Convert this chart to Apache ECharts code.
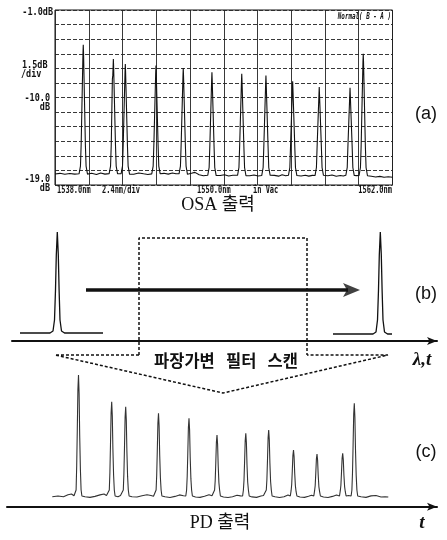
<!DOCTYPE html>
<html>
<head>
<meta charset="utf-8">
<title>OSA / PD output</title>
<script src="https://cdn.jsdelivr.net/npm/echarts@6.0.0/dist/echarts.min.js"></script>
<style>
html,body{margin:0;padding:0;background:#ffffff;}
#chart{width:447px;height:540px;}
</style>
</head>
<body>
<div id="chart"></div>
<script>
// ---------------- data ----------------
// (a) OSA spectrum: [wavelength nm, level dB]
const osaSpectrum = [
  [1538.00,-17.87],[1538.35,-17.80],[1538.70,-17.90],[1539.05,-17.82],[1539.40,-17.88],
  [1539.71,-17.85],[1539.81,-17.05],[1539.86,-14.85],[1539.99,-5.40],[1540.01,-4.58],[1540.03,-5.45],[1540.16,-14.85],[1540.21,-17.05],[1540.31,-17.88],
  [1540.60,-17.80],[1540.95,-17.92],[1541.25,-17.76],[1541.55,-17.88],
  [1541.85,-17.83],[1541.95,-17.05],[1542.00,-14.85],[1542.08,-8.10],[1542.11,-7.70],[1542.13,-6.90],[1542.15,-6.04],[1542.17,-6.90],[1542.30,-14.85],[1542.35,-17.05],[1542.45,-17.85],
  [1542.58,-17.80],
  [1542.70,-17.85],[1542.80,-17.05],[1542.85,-14.85],[1542.98,-7.35],[1543.00,-6.55],[1543.02,-7.40],[1543.15,-14.85],[1543.20,-17.05],[1543.30,-17.88],
  [1543.60,-17.90],[1543.95,-17.76],[1544.30,-17.85],[1544.60,-17.92],
  [1544.88,-17.86],[1544.98,-17.05],[1545.03,-14.85],[1545.16,-7.50],[1545.18,-6.70],[1545.20,-7.50],[1545.33,-14.85],[1545.38,-17.05],[1545.48,-17.85],
  [1545.75,-17.80],[1546.05,-17.88],[1546.35,-17.76],[1546.60,-17.85],
  [1546.82,-17.85],[1546.92,-17.05],[1546.97,-14.85],[1547.10,-7.80],[1547.12,-6.97],[1547.14,-7.80],[1547.27,-14.85],[1547.32,-17.05],[1547.42,-17.90],
  [1547.70,-17.80],[1547.95,-17.70],[1548.25,-17.95],[1548.55,-18.05],
  [1548.86,-18.00],[1548.96,-17.20],[1549.01,-15.00],[1549.14,-8.20],[1549.16,-7.41],[1549.18,-8.25],[1549.31,-15.00],[1549.36,-17.20],[1549.46,-18.03],
  [1549.75,-18.03],[1550.05,-17.95],[1550.35,-18.07],[1550.65,-18.00],
  [1550.98,-18.00],[1551.08,-17.20],[1551.13,-15.00],[1551.26,-8.35],[1551.28,-7.55],[1551.30,-8.35],[1551.43,-15.00],[1551.48,-17.20],[1551.58,-18.05],
  [1551.85,-18.05],[1552.15,-17.97],[1552.45,-18.07],
  [1552.70,-18.03],[1552.80,-17.20],[1552.85,-15.00],[1552.98,-8.55],[1553.00,-7.75],[1553.02,-8.60],[1553.15,-15.00],[1553.20,-17.20],[1553.30,-18.00],
  [1553.60,-18.01],[1553.90,-18.09],[1554.15,-17.95],[1554.40,-18.05],
  [1554.60,-18.00],[1554.70,-17.20],[1554.75,-15.00],[1554.88,-9.10],[1554.90,-8.33],[1554.92,-9.15],[1555.05,-15.00],[1555.10,-17.20],[1555.20,-18.03],
  [1555.50,-18.07],[1555.80,-17.99],[1556.05,-18.09],[1556.30,-18.01],
  [1556.49,-18.03],[1556.59,-17.20],[1556.64,-15.00],[1556.77,-9.70],[1556.79,-8.91],[1556.81,-9.70],[1556.94,-15.00],[1556.99,-17.20],[1557.09,-18.00],
  [1557.40,-18.05],[1557.70,-17.97],[1558.00,-18.10],[1558.30,-18.03],[1558.50,-18.07],
  [1558.68,-18.00],[1558.78,-17.20],[1558.83,-15.00],[1558.96,-9.80],[1558.98,-9.01],[1559.00,-9.80],[1559.13,-15.00],[1559.18,-17.20],[1559.28,-18.03],
  [1559.45,-18.04],
  [1559.62,-18.03],[1559.72,-17.20],[1559.77,-15.00],[1559.90,-6.30],[1559.92,-5.50],[1559.94,-6.35],[1560.07,-15.00],[1560.12,-17.20],[1560.22,-18.05],
  [1560.50,-18.10],[1560.80,-18.17],[1561.10,-18.11],[1561.40,-18.20],[1561.70,-18.15],[1562.00,-18.21]
];
const osaXTickLabels = ['1538.0nm', '2.4nm/div', '1550.0nm', 'in Vac', '1562.0nm'];
const osaYTickLabels = ['-1.0dB', '1.5dB', '/div', '-10.0', 'dB', '-19.0', 'dB'];
const osaMode = 'Normal( B - A )';

// (b) schematic: wavelength/time (a.u.) vs amplitude (a.u.)
const scanPeakStart = [[1.6,0.08],[7.6,0.08],[8.2,0.10],[8.5,0.21],[8.7,0.51],[8.86,0.86],[9.06,1.09],[9.26,0.86],[9.42,0.51],[9.6,0.21],[9.9,0.10],[10.5,0.08],[18.2,0.08]];
const scanPeakEnd = [[64.2,0.07],[72.2,0.07],[72.8,0.09],[73.1,0.21],[73.3,0.51],[73.46,0.86],[73.66,1.09],[73.86,0.86],[74.02,0.51],[74.2,0.21],[74.5,0.09],[75.1,0.07],[76.0,0.07]];
const scanShaft = [[14.8,0.51],[67.2,0.51]];
const scanHead = [[69.6,0.51]];
const filterWindow = [[25.4,-0.14],[25.4,1.03],[59.0,1.03],[59.0,-0.14]];
const scanFan = [[25.4,-0.14],[8.6,-0.14],[42.2,-0.52],[75.2,-0.14],[59.0,-0.14]];

// (c) PD output: time (a.u.) vs photodiode signal (a.u.)
const pdTrace = [
  [9.06,0.100],[10.2,0.107],[11.3,0.100],[12.2,0.120],[12.9,0.127],[13.4,0.110],
  [13.66,0.107],[13.82,0.167],[13.94,0.410],[14.06,0.772],[14.18,1.172],[14.30,1.317],[14.42,1.135],[14.54,0.712],[14.68,0.373],[14.82,0.167],[14.98,0.107],
  [15.6,0.100],[16.6,0.093],[17.6,0.103],[18.6,0.118],[19.4,0.127],[19.9,0.112],
  [20.30,0.107],[20.46,0.167],[20.58,0.343],[20.70,0.626],[20.82,0.937],[20.94,1.050],[21.06,0.909],[21.18,0.578],[21.32,0.314],[21.46,0.167],[21.62,0.107],
  [22.2,0.100],[22.7,0.112],
  [23.10,0.107],[23.26,0.167],[23.38,0.330],[23.50,0.598],[23.62,0.893],[23.74,1.000],[23.86,0.866],[23.98,0.553],[24.12,0.303],[24.26,0.167],[24.42,0.107],
  [25.0,0.100],[26.0,0.097],[27.0,0.110],[28.0,0.120],[28.8,0.112],[29.3,0.105],
  [29.66,0.107],[29.82,0.167],[29.94,0.314],[30.06,0.562],[30.18,0.835],[30.30,0.934],[30.42,0.810],[30.54,0.520],[30.68,0.289],[30.82,0.167],[30.98,0.107],
  [31.6,0.100],[32.6,0.092],[33.6,0.103],[34.5,0.118],[35.3,0.110],
  [35.76,0.107],[35.92,0.167],[36.04,0.301],[36.16,0.534],[36.28,0.791],[36.40,0.884],[36.52,0.767],[36.64,0.495],[36.78,0.278],[36.92,0.167],[37.08,0.107],
  [37.7,0.097],[38.6,0.093],[39.5,0.105],[40.4,0.120],[41.0,0.110],
  [41.36,0.107],[41.52,0.167],[41.64,0.260],[41.76,0.442],[41.88,0.644],[42.00,0.717],[42.12,0.625],[42.24,0.412],[42.38,0.241],[42.52,0.167],[42.68,0.107],
  [43.3,0.097],[44.2,0.092],[45.1,0.100],[46.0,0.115],[46.7,0.108],
  [47.12,0.107],[47.28,0.167],[47.40,0.264],[47.52,0.452],[47.64,0.659],[47.76,0.734],[47.88,0.640],[48.00,0.420],[48.14,0.245],[48.28,0.167],[48.44,0.107],
  [49.0,0.098],[49.9,0.093],[50.8,0.107],[51.3,0.112],
  [51.70,0.107],[51.86,0.167],[51.98,0.272],[52.10,0.470],[52.22,0.688],[52.34,0.767],[52.46,0.668],[52.58,0.437],[52.72,0.252],[52.86,0.167],[53.02,0.107],
  [53.6,0.100],[54.5,0.092],[55.4,0.100],[56.2,0.118],
  [56.66,0.107],[56.82,0.160],[56.94,0.222],[57.06,0.360],[57.18,0.512],[57.30,0.567],[57.42,0.498],[57.54,0.337],[57.68,0.208],[57.82,0.150],[57.98,0.107],
  [58.6,0.097],[59.5,0.093],[60.3,0.105],[60.9,0.115],
  [61.36,0.107],[61.52,0.160],[61.64,0.212],[61.76,0.338],[61.88,0.477],[62.00,0.527],[62.12,0.464],[62.24,0.317],[62.38,0.199],[62.52,0.150],[62.68,0.107],
  [63.3,0.097],[64.2,0.092],[65.1,0.103],[65.9,0.117],
  [66.50,0.107],[66.66,0.160],[66.78,0.214],[66.90,0.342],[67.02,0.483],[67.14,0.534],[67.26,0.470],[67.38,0.320],[67.52,0.201],[67.66,0.150],[67.82,0.107],
  [68.3,0.112],
  [68.82,0.107],[68.98,0.167],[69.10,0.339],[69.22,0.617],[69.34,0.923],[69.46,1.034],[69.58,0.895],[69.70,0.570],[69.84,0.311],[69.98,0.167],[70.14,0.107],
  [70.8,0.100],[71.8,0.093],[72.8,0.108],[73.8,0.112],[74.8,0.097],[75.6,0.100],[76.26,0.097]
];

const captions = ['OSA 출력', '파장가변   필터   스캔', 'PD 출력'];
const panelTags = ['(a)', '(b)', '(c)'];
const axisNames = ['λ,t', 't'];

// ---------------- chart ----------------
const INK = '#111111';
const MONO = '"DejaVu Sans Mono", "Liberation Mono", monospace';
const chart = echarts.init(document.getElementById('chart'), null, { renderer: 'canvas' });

function label(text, x, y, font, align, sx) {
  return {
    type: 'text', x: x, y: y, scaleX: sx || 1, silent: true, z: 100,
    style: { text: text, font: font, fill: INK, align: align || 'center', verticalAlign: 'middle' }
  };
}

const yLabelPos = [[53, 12, 'right'], [22, 65, 'left'], [21, 74, 'left'], [50, 98, 'right'], [50, 107, 'right'], [50, 179, 'right'], [50, 188, 'right']];
const xLabelPos = [[57, 'left'], [102, 'left'], [197, 'left'], [253, 'left'], [392, 'right']];

const graphics = [];
osaYTickLabels.forEach((t, i) => graphics.push(label(t, yLabelPos[i][0], yLabelPos[i][1], 'bold 10px ' + MONO, yLabelPos[i][2], 0.85)));
osaXTickLabels.forEach((t, i) => graphics.push(label(t, xLabelPos[i][0], 190, 'bold 10px ' + MONO, xLabelPos[i][1], 0.7)));
graphics.push(label(osaMode, 391, 16.5, 'italic bold 9.5px ' + MONO, 'right', 0.62));
graphics.push(label(captions[0], 218, 205, '18px "Liberation Serif", "Noto Sans CJK KR", serif', 'center'));
graphics.push(label(captions[1], 226, 361, 'bold 16.5px "Noto Sans CJK KR", sans-serif', 'center'));
graphics.push(label(captions[2], 220, 523, '18px "Liberation Serif", "Noto Sans CJK KR", serif', 'center'));
graphics.push(label(panelTags[0], 426, 114, '18px "Liberation Sans", Arial, sans-serif', 'center'));
graphics.push(label(panelTags[1], 426, 294, '18px "Liberation Sans", Arial, sans-serif', 'center'));
graphics.push(label(panelTags[2], 426, 452, '18px "Liberation Sans", Arial, sans-serif', 'center'));
graphics.push(label(axisNames[0], 422, 360, 'italic bold 19px "Liberation Serif", serif', 'center'));
graphics.push(label(axisNames[1], 422, 523, 'italic bold 19px "Liberation Serif", serif', 'center'));

const arrowAxisLine = { show: true, onZero: true, symbol: ['none', 'arrow'], symbolSize: [6, 10], lineStyle: { color: INK, width: 2 } };

const option = {
  animation: false,
  backgroundColor: '#ffffff',
  grid: [
    { left: 55, top: 10, width: 337.5, height: 175, show: true, borderColor: INK, borderWidth: 1, backgroundColor: 'transparent' },
    { left: 12, top: 231, width: 425, height: 165 },
    { left: 7, top: 366.7, width: 430, height: 140 }
  ],
  xAxis: [
    { gridIndex: 0, type: 'value', min: 1538, max: 1562, interval: 2.4,
      axisLine: { show: false }, axisTick: { show: false }, axisLabel: { show: false },
      splitLine: { show: true, lineStyle: { color: '#222', width: 0.9 } } },
    { gridIndex: 1, type: 'value', min: 0, max: 85, axisLine: arrowAxisLine,
      axisTick: { show: false }, axisLabel: { show: false }, splitLine: { show: false } },
    { gridIndex: 2, type: 'value', min: 0, max: 86, axisLine: arrowAxisLine,
      axisTick: { show: false }, axisLabel: { show: false }, splitLine: { show: false } }
  ],
  yAxis: [
    { gridIndex: 0, type: 'value', min: -19, max: -1, interval: 1.5,
      axisLine: { show: false }, axisTick: { show: false }, axisLabel: { show: false },
      splitLine: { show: true, lineStyle: { color: '#222', width: 0.9, type: [4, 2] } } },
    { gridIndex: 1, type: 'value', min: -0.55, max: 1.1, show: false, splitLine: { show: false } },
    { gridIndex: 2, type: 'value', min: 0, max: 1.4, show: false, splitLine: { show: false } }
  ],
  series: [
    { name: 'OSA', type: 'line', xAxisIndex: 0, yAxisIndex: 0, data: osaSpectrum, showSymbol: false, symbol: 'none',
      lineStyle: { color: INK, width: 1.1 }, silent: true },
    { name: 'start pulse', type: 'line', xAxisIndex: 1, yAxisIndex: 1, data: scanPeakStart, symbol: 'none',
      lineStyle: { color: INK, width: 1.3 }, silent: true },
    { name: 'end pulse', type: 'line', xAxisIndex: 1, yAxisIndex: 1, data: scanPeakEnd, symbol: 'none',
      lineStyle: { color: INK, width: 1.3 }, silent: true },
    { name: 'scan shaft', type: 'line', xAxisIndex: 1, yAxisIndex: 1, data: scanShaft, symbol: 'none',
      lineStyle: { color: INK, width: 3.5 }, silent: true },
    { name: 'scan head', type: 'scatter', xAxisIndex: 1, yAxisIndex: 1, data: scanHead,
      symbol: 'path://M0,0L17,7L0,14L4,7Z', symbolSize: [17, 14], symbolOffset: [-8.5, 0], symbolKeepAspect: false,
      itemStyle: { color: INK }, silent: true },
    { name: 'filter window', type: 'line', xAxisIndex: 1, yAxisIndex: 1, data: filterWindow, symbol: 'none',
      lineStyle: { color: INK, width: 1.5, type: [3, 2] }, silent: true },
    { name: 'scan fan', type: 'line', xAxisIndex: 1, yAxisIndex: 1, data: scanFan, symbol: 'none',
      lineStyle: { color: INK, width: 1.5, type: [3, 2] }, silent: true },
    { name: 'PD', type: 'line', xAxisIndex: 2, yAxisIndex: 2, data: pdTrace, symbol: 'none',
      lineStyle: { color: '#333', width: 1.1 }, silent: true }
  ],
  graphic: graphics
};
chart.setOption(option);
</script>
</body>
</html>
